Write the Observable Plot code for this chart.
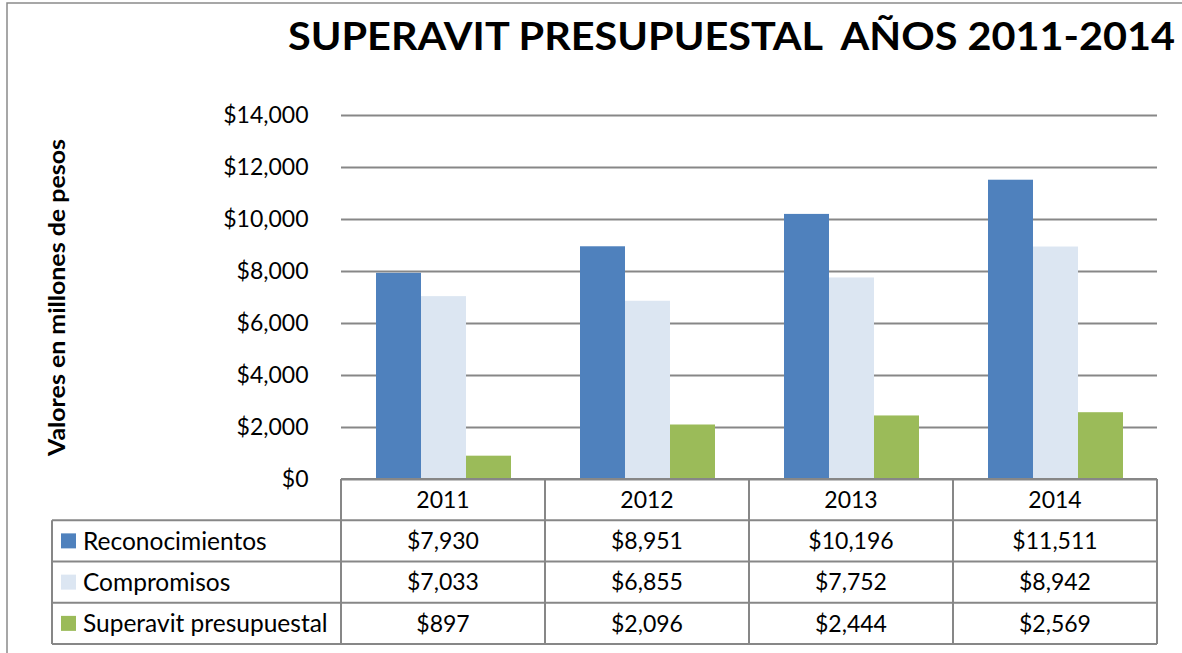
<!DOCTYPE html>
<html><head><meta charset="utf-8">
<script src="https://cdn.jsdelivr.net/npm/d3@7"></script>
<script src="https://cdn.jsdelivr.net/npm/@observablehq/plot@0.6"></script>
<style>
html,body{margin:0;padding:0;background:#fff;}
#root{position:relative;width:1182px;height:653px;overflow:hidden;background:#fff;font-family:Lato,"Open Sans",sans-serif;color:#000;}
#root > svg{position:absolute;left:0;top:0;}
</style></head><body><div id="root"></div>
<script>
// ---- data ----
const years = ["2011", "2012", "2013", "2014"];
const series = ["Reconocimientos", "Compromisos", "Superavit presupuestal"];
const reconocimientos = [7930, 8951, 10196, 11511];
const compromisos = [7033, 6855, 7752, 8942];
const superavit = [897, 2096, 2444, 2569];
const seriesColors = ["#4F81BD", "#DCE6F2", "#9BBB59"];
const yTicks = [0, 2000, 4000, 6000, 8000, 10000, 12000, 14000];
const titleText = "SUPERAVIT PRESUPUESTAL  AÑOS 2011-2014";
const yLabel = "Valores en millones de pesos";

const values = [reconocimientos, compromisos, superavit];
const rows = years.flatMap((yr, i) => series.map((s, j) => ({year: yr, series: s, value: values[j][i]})));
const money = d => "$" + d3.format(",")(d);

const W = 1182, H = 653;
const gridColor = "#878787";

const chart = Plot.plot({
  width: W, height: 482,
  marginLeft: 340, marginRight: 25, marginTop: 115, marginBottom: 3,
  style: {fontFamily: "Lato, sans-serif", fontSize: "23px", background: "transparent", color: "#000", overflow: "visible"},
  fx: {domain: years, padding: 0, axis: null},
  x: {domain: series, paddingInner: 0, paddingOuter: 0.75, axis: null},
  y: {domain: [0, 14000]},
  color: {domain: series, range: seriesColors},
  marks: [
    Plot.gridY(yTicks, {stroke: gridColor, strokeOpacity: 1, strokeWidth: 2}),
    Plot.barY(rows, {fx: "year", x: "series", y: "value", fill: "series"}),
    Plot.axisY(yTicks, {tickSize: 0, tickPadding: 33, tickFormat: money, label: null, fontSize: 23, color: "#000", stroke: gridColor, strokeWidth: 2, line: true})
  ]
});
const root = document.getElementById("root");
root.appendChild(chart);

// scales for table layout
const fxS = chart.scale("fx");
const yS = chart.scale("y");
const bw = fxS.bandwidth;
const colLeft = yr => fxS.apply(yr);
const plotLeft = colLeft(years[0]);
const plotRight = colLeft(years[years.length - 1]) + bw;
const tableTop = yS.apply(0);
const rowH = 41.25;
const labelLeft = 52;

const svg = d3.select(root).append("svg")
  .attr("width", W).attr("height", H)
  .style("font-family", "Lato, sans-serif");

// outer border
svg.append("path").attr("d", `M7,${H} V3 H${W}`).attr("fill", "none").attr("stroke", "#8a8a8a").attr("stroke-width", 1.5);

// title
svg.append("text").attr("x", 288).attr("y", 50)
  .attr("font-size", 38).attr("font-weight", "bold")
  .attr("xml:space", "preserve").style("white-space", "pre")
  .attr("textLength", 887).attr("lengthAdjust", "spacingAndGlyphs")
  .text(titleText);

// y label
svg.append("text").attr("transform", `translate(65,${(yS.apply(0) + yS.apply(14000)) / 2 + 0.5}) rotate(-90)`)
  .attr("text-anchor", "middle").attr("font-size", 23).attr("font-weight", "bold")
  .attr("textLength", 317).attr("lengthAdjust", "spacingAndGlyphs")
  .text(yLabel);

// table lines
const lines = svg.append("g").attr("stroke", gridColor).attr("stroke-width", 2).attr("fill", "none");
const tableBottom = tableTop + rowH * 4;
lines.append("line").attr("x1", plotLeft).attr("x2", plotRight).attr("y1", tableTop).attr("y2", tableTop);
for (let r = 1; r <= 4; r++) {
  const yy = tableTop + rowH * r;
  lines.append("line").attr("x1", labelLeft).attr("x2", plotRight).attr("y1", yy).attr("y2", yy);
}
lines.append("line").attr("x1", labelLeft).attr("x2", labelLeft).attr("y1", tableTop + rowH).attr("y2", tableBottom);
years.forEach(yr => {
  const x = colLeft(yr);
  lines.append("line").attr("x1", x).attr("x2", x).attr("y1", tableTop).attr("y2", tableBottom);
});
lines.append("line").attr("x1", plotRight).attr("x2", plotRight).attr("y1", tableTop).attr("y2", tableBottom);

// header
years.forEach(yr => {
  svg.append("text").attr("x", colLeft(yr) + bw / 2).attr("y", tableTop + rowH / 2)
    .attr("dy", "0.36em").attr("text-anchor", "middle").attr("font-size", 23).text(yr);
});
// rows
series.forEach((s, j) => {
  const cy = tableTop + rowH * (j + 1.5);
  svg.append("rect").attr("x", 61).attr("y", cy - 7.5).attr("width", 15).attr("height", 15).attr("fill", seriesColors[j]);
  svg.append("text").attr("x", 83).attr("y", cy).attr("dy", "0.36em").attr("font-size", 24.5).text(s);
  years.forEach((yr, i) => {
    svg.append("text").attr("x", colLeft(yr) + bw / 2).attr("y", cy)
      .attr("dy", "0.36em").attr("text-anchor", "middle").attr("font-size", 23).text(money(values[j][i]));
  });
});
</script></body></html>
